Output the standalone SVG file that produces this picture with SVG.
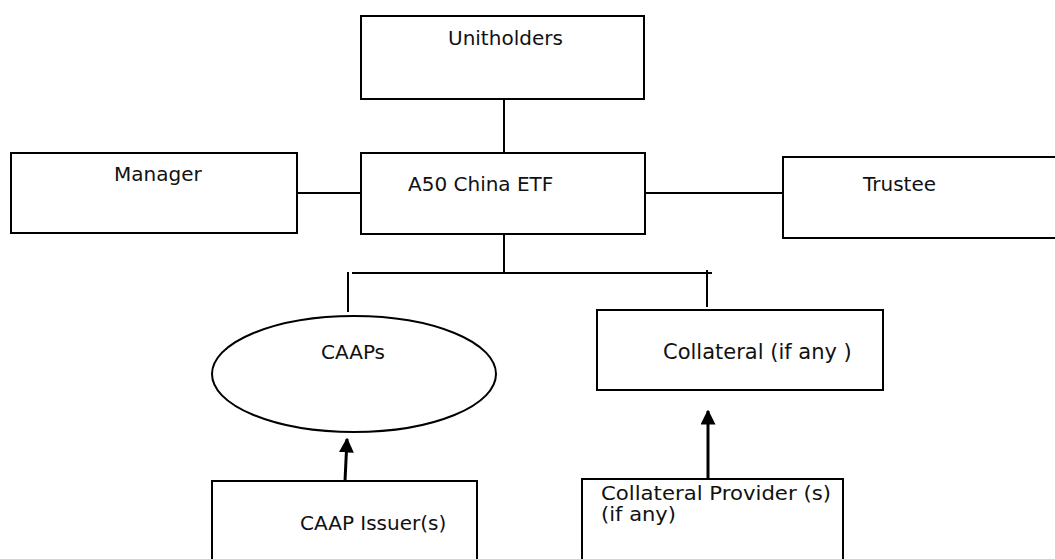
<svg xmlns="http://www.w3.org/2000/svg" width="1055" height="559" viewBox="0 0 1055 559">
<style>
.box{fill:#fff;stroke:#000;stroke-width:2}
.ln{fill:none;stroke:#000;stroke-width:2}
.ar{fill:none;stroke:#000;stroke-width:3}
text{font-family:"DejaVu Sans","Verdana",sans-serif;font-size:20px;fill:#111}
.c{font-size:21px}
.p{font-size:19px}
</style>
<defs>
<marker id="ah" viewBox="0 0 10 10" refX="9" refY="5" markerWidth="5" markerHeight="5" markerUnits="strokeWidth" orient="auto">
<path d="M0,0 L10,5 L0,10 z" fill="#000"/>
</marker>
</defs>
<rect width="1055" height="559" fill="#fff"/>
<g id="connectors">
<line class="ln" x1="504" y1="99" x2="504" y2="153"/>
<line class="ln" x1="297" y1="193" x2="361" y2="193"/>
<line class="ln" x1="645" y1="193" x2="787" y2="193"/>
<line class="ln" x1="504" y1="234" x2="504" y2="273"/>
<line class="ln" x1="352" y1="273" x2="712" y2="273"/>
<line class="ln" x1="348" y1="272" x2="348" y2="312"/>
<line class="ln" x1="707" y1="270" x2="707" y2="307"/>
<line class="ar" x1="345" y1="481" x2="347" y2="439" marker-end="url(#ah)"/>
<line class="ar" x1="708" y1="480" x2="708" y2="411" marker-end="url(#ah)"/>
</g>
<g id="unitholders">
<rect class="box" x="361" y="16" width="283" height="83"/>
<text x="448" y="45">Unitholders</text>
</g>
<g id="manager">
<rect class="box" x="11" y="153" width="286" height="80"/>
<text x="114" y="181">Manager</text>
</g>
<g id="etf">
<rect class="box" x="361" y="153" width="284" height="81"/>
<text x="408" y="191">A50 China ETF</text>
</g>
<g id="trustee">
<rect class="box" x="783" y="157" width="280" height="81"/>
<text x="863" y="191">Trustee</text>
</g>
<g id="caaps">
<ellipse class="box" cx="354" cy="374" rx="142" ry="58"/>
<text x="321" y="359">CAAPs</text>
</g>
<g id="collateral">
<rect class="box" x="597" y="310" width="286" height="80"/>
<text class="c" x="663" y="359">Collateral (if any )</text>
</g>
<g id="caap-issuer">
<rect class="box" x="212" y="481" width="265" height="90"/>
<text x="300" y="530">CAAP Issuer(s)</text>
</g>
<g id="collateral-provider">
<rect class="box" x="582" y="479" width="261" height="92"/>
<text class="p" x="601" y="500" textLength="230" lengthAdjust="spacingAndGlyphs">Collateral Provider (s)</text>
<text class="p" x="601" y="521" textLength="75" lengthAdjust="spacingAndGlyphs">(if any)</text>
</g>
</svg>
